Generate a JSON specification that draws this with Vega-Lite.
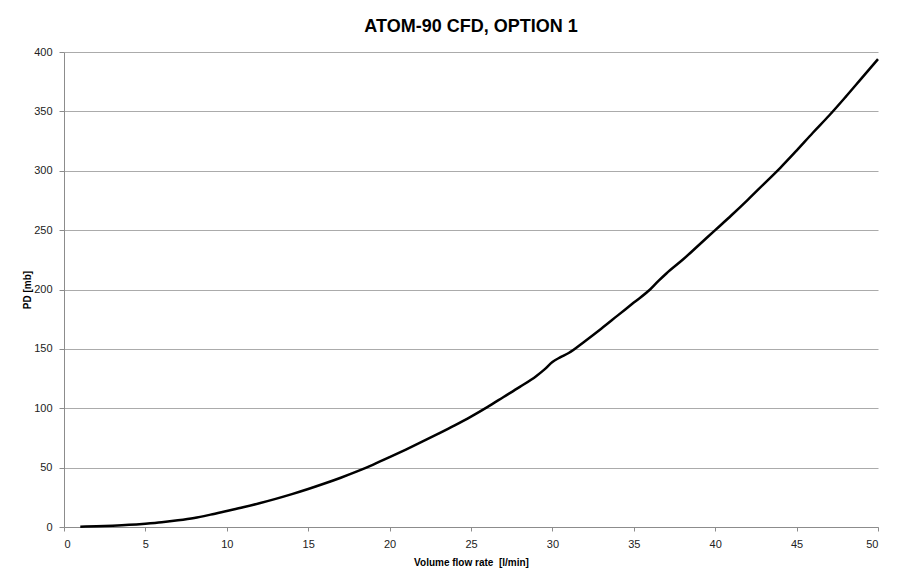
{
  "$schema": "https://vega.github.io/schema/vega-lite/v6.json",
  "width": 814,
  "height": 475,
  "autosize": {"type": "none"},
  "padding": {"left": 64, "top": 52, "right": 19, "bottom": 58},
  "background": "white",
  "title": {
    "text": "ATOM-90 CFD, OPTION 1",
    "font": "Liberation Sans",
    "fontSize": 18,
    "fontWeight": "bold",
    "color": "#000000",
    "anchor": "middle",
    "offset": 10
  },
  "config": {
    "view": {"stroke": null},
    "axis": {
      "labelFont": "Liberation Sans",
      "labelFontSize": 11,
      "labelColor": "#222222",
      "titleFont": "Liberation Sans",
      "titleFontSize": 10,
      "titleFontWeight": "bold",
      "titleColor": "#000000",
      "domainColor": "#8c8c8c",
      "tickColor": "#8c8c8c",
      "gridColor": "#ababab",
      "gridWidth": 1
    }
  },
  "data": {
    "values": [
      {"q": 1, "pd": 0.3}, {"q": 2, "pd": 0.6}, {"q": 3, "pd": 1.1}, {"q": 4, "pd": 1.8},
      {"q": 5, "pd": 2.8}, {"q": 6, "pd": 4.0}, {"q": 7, "pd": 5.6}, {"q": 8, "pd": 7.6},
      {"q": 9, "pd": 10.4}, {"q": 10, "pd": 13.5}, {"q": 11, "pd": 16.6}, {"q": 12, "pd": 20},
      {"q": 13, "pd": 23.7}, {"q": 14, "pd": 27.7}, {"q": 15, "pd": 32}, {"q": 16, "pd": 36.6},
      {"q": 17, "pd": 41.5}, {"q": 18, "pd": 46.8}, {"q": 19, "pd": 52.6}, {"q": 20, "pd": 58.8},
      {"q": 21, "pd": 65.2}, {"q": 22, "pd": 71.8}, {"q": 23, "pd": 78.6}, {"q": 24, "pd": 85.6},
      {"q": 25, "pd": 93}, {"q": 26, "pd": 101}, {"q": 27, "pd": 109.5}, {"q": 28, "pd": 118},
      {"q": 29, "pd": 127}, {"q": 29.5, "pd": 132.5}, {"q": 30, "pd": 139}, {"q": 30.5, "pd": 143},
      {"q": 31, "pd": 146.5}, {"q": 32, "pd": 156.5}, {"q": 33, "pd": 167}, {"q": 34, "pd": 178},
      {"q": 35, "pd": 189}, {"q": 36, "pd": 200}, {"q": 36.5, "pd": 207}, {"q": 37, "pd": 213.5},
      {"q": 38, "pd": 225}, {"q": 39, "pd": 237.5}, {"q": 40, "pd": 250}, {"q": 41, "pd": 262.5},
      {"q": 42, "pd": 275.5}, {"q": 43, "pd": 289}, {"q": 44, "pd": 302.5}, {"q": 45, "pd": 317},
      {"q": 46, "pd": 332}, {"q": 47, "pd": 346.5}, {"q": 48, "pd": 362}, {"q": 49, "pd": 378},
      {"q": 50, "pd": 394}
    ]
  },
  "mark": {"type": "line", "color": "#000000", "strokeWidth": 2.5, "interpolate": "monotone"},
  "encoding": {
    "x": {
      "field": "q",
      "type": "quantitative",
      "scale": {"domain": [0, 50], "nice": false},
      "axis": {
        "values": [0, 5, 10, 15, 20, 25, 30, 35, 40, 45, 50],
        "grid": false,
        "title": "Volume flow rate \u00a0[l/min]",
        "tickSize": 4,
        "labelPadding": 7,
        "titlePadding": 8
      }
    },
    "y": {
      "field": "pd",
      "type": "quantitative",
      "scale": {"domain": [0, 400], "nice": false},
      "axis": {
        "values": [0, 50, 100, 150, 200, 250, 300, 350, 400],
        "grid": true,
        "title": "PD [mb]",
        "tickSize": 5,
        "labelPadding": 7,
        "titlePadding": 1
      }
    }
  }
}
